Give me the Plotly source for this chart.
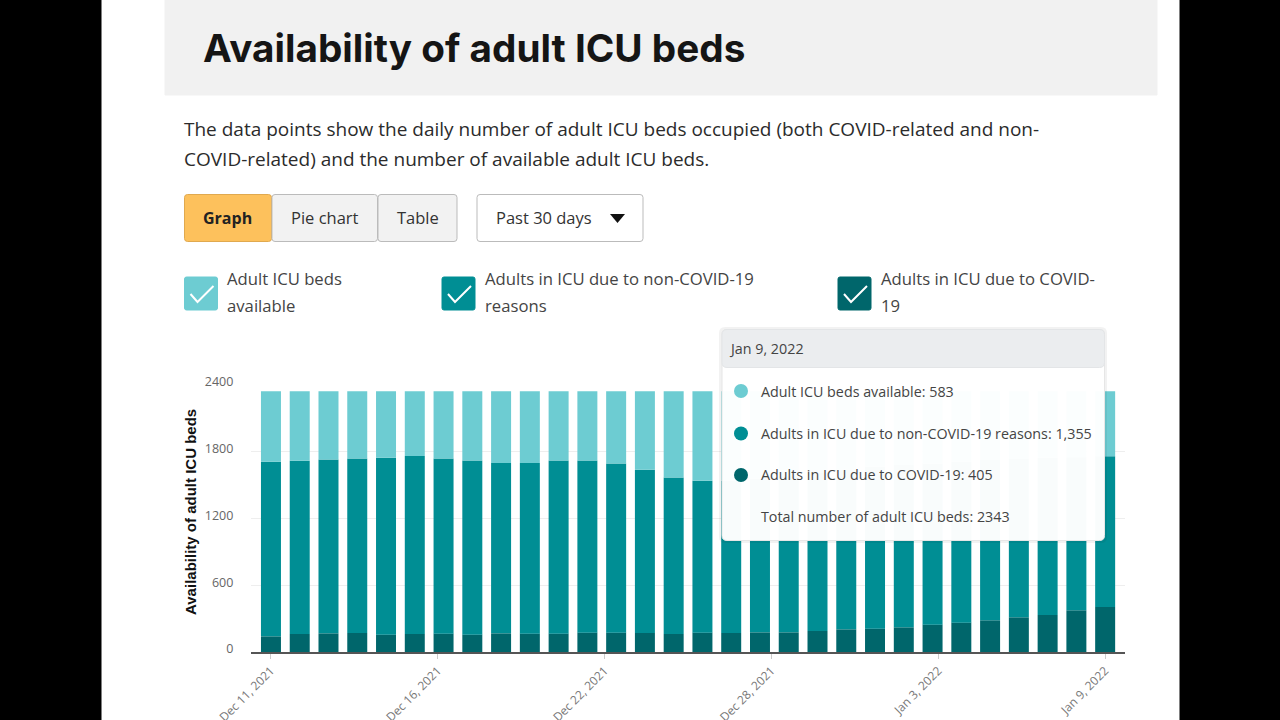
import pandas as pd
import plotly.express as px

covid=[141,162,168,171,156,162,165,156,168,165,165,174,174,171,162,174,171,177,177,189,204,210,222,246,264,285,312,333,375,405]
occupied=[1710,1719,1731,1740,1746,1761,1740,1722,1698,1698,1722,1722,1695,1638,1569,1539,1540,1560,1585,1610,1640,1665,1680,1695,1710,1725,1735,1745,1750,1760]
#Reading the bars off the picture, occupied is the top of the middle block

table=pd.DataFrame({'Date':pd.date_range('2021-12-11', '2022-01-09'), 'covid':covid, 'occupied':occupied})
table['Adults in ICU due to COVID-19']=table['covid']
table['Adults in ICU due to non-COVID-19 reasons']=table['occupied']-table['covid']
table['Adult ICU beds available']=2343-table['occupied']
#Building the table

fig=px.bar(table, x='Date', y=['Adults in ICU due to COVID-19', 'Adults in ICU due to non-COVID-19 reasons', 'Adult ICU beds available'], color_discrete_sequence=['#00666b', '#008e94', '#6dccd2'])
fig.update_traces(marker_line_width=0)
#Stacked bar chart for the beds

ticks=[pd.Timestamp('2021-12-11')+pd.Timedelta(days=5.8*i) for i in range(6)]
fig.update_xaxes(domain=[251.4/1280, 1125/1280], range=[pd.Timestamp('2021-12-11')-pd.Timedelta(days=0.68), pd.Timestamp('2022-01-09')+pd.Timedelta(days=0.69)], tickvals=ticks, ticktext=['Dec 11, 2021', 'Dec 16, 2021', 'Dec 22, 2021', 'Dec 28, 2021', 'Jan 3, 2022', 'Jan 9, 2022'], tickangle=-45, ticks='outside', ticklen=5, tickcolor='#cccccc', tickfont=dict(family='Open Sans', size=12, color='#777777'), showline=True, linecolor='#555555', linewidth=2, showgrid=False, title=None, automargin=False)
fig.update_yaxes(domain=[1-652/720, 1-385/720], range=[0, 2400], tickvals=[0, 600, 1200, 1800, 2400], tickfont=dict(family='Open Sans', size=12.5, color='#666666'), gridcolor='#eeeeee', zeroline=False, ticklabelstandoff=17, ticklabelshift=-3, title=None, automargin=False)
fig.update_layout(width=1280, height=720, margin=dict(l=0, r=0, t=0, b=0), autosize=False, paper_bgcolor='white', plot_bgcolor='white', showlegend=False, bargap=0.305, hovermode=False)
#Axes and layout

boxes=[(0,-2,101,722,'#000000','#000000',0,'below'),
       (1180,-2,1282,722,'#000000','#000000',0,'below'),
       (165,-2,1157,95,'#f1f1f1','#f1f1f1',0,'below'),
       (184.5,194.5,271.5,241.5,'#fdc15c','#e0a94f',3,'below'),
       (272,194.5,377.5,241.5,'#f2f2f2','#bbbbbb',3,'below'),
       (378,194.5,457,241.5,'#f2f2f2','#bbbbbb',3,'below'),
       (477,194.5,643,241.5,'#ffffff','#bbbbbb',3,'below'),
       (184.5,277,217.5,310,'#6dccd2','#6dccd2',2,'below'),
       (442,277,475,310,'#008e94','#008e94',2,'below'),
       (838,277,871,310,'#00666b','#00666b',2,'below'),
       (719,327,1107,543,'rgba(0,0,0,0.05)','rgba(0,0,0,0)',6,'above'),
       (722,329.5,1104.5,540.5,'rgba(255,255,255,0.975)','#e6e6e6',5,'above'),
       (722,329.5,1104.5,367.5,'#ebedef','#e3e5e7',5,'above')]
for x0,y0,x1,y1,fill,line,r,layer in boxes:
    path=f'M {(x0+r)/1280} {1-y0/720} L {(x1-r)/1280} {1-y0/720} Q {x1/1280} {1-y0/720} {x1/1280} {1-(y0+r)/720} L {x1/1280} {1-(y1-r)/720} Q {x1/1280} {1-y1/720} {(x1-r)/1280} {1-y1/720} L {(x0+r)/1280} {1-y1/720} Q {x0/1280} {1-y1/720} {x0/1280} {1-(y1-r)/720} L {x0/1280} {1-(y0+r)/720} Q {x0/1280} {1-y0/720} {(x0+r)/1280} {1-y0/720} Z'
    fig.add_shape(type='path', path=path, xref='paper', yref='paper', fillcolor=fill, line=dict(color=line, width=1), layer=layer)
#The page around the chart and the tooltip box

for x0 in [184.5, 442, 838]:
    path=f'M {(x0+6)/1280} {1-294/720} L {(x0+13)/1280} {1-302/720} L {(x0+29)/1280} {1-286/720}'
    fig.add_shape(type='path', path=path, xref='paper', yref='paper', line=dict(color='white', width=2))
fig.add_shape(type='path', path=f'M {610/1280} {1-214/720} L {625/1280} {1-214/720} L {617.5/1280} {1-223/720} Z', xref='paper', yref='paper', fillcolor='#111111', line=dict(width=0))
for y,color in [(391,'#6dccd2'), (433.5,'#008e94'), (475,'#00666b')]:
    fig.add_shape(type='circle', xref='paper', yref='paper', x0=734/1280, x1=748/1280, y0=1-(y+7)/720, y1=1-(y-7)/720, fillcolor=color, line=dict(width=0))
#Check marks, dropdown arrow and tooltip dots

texts=[(202,48,'<b>Availability of adult ICU beds</b>','Inter',38.7,'#151515'),
       (183,129,'The data points show the daily number of adult ICU beds occupied (both COVID-related and non-','Open Sans',19,'#2b2b2b'),
       (183,159,'COVID-related) and the number of available adult ICU beds.','Open Sans',19,'#2b2b2b'),
       (202,218,'<b>Graph</b>','Open Sans',16,'#222222'),
       (290,217.5,'Pie chart','Open Sans',16.5,'#333333'),
       (396,217.5,'Table','Open Sans',16.5,'#333333'),
       (495,217.5,'Past 30 days','Open Sans',16.5,'#333333'),
       (226,278.5,'Adult ICU beds','Open Sans',16.7,'#444444'),
       (226,305.5,'available','Open Sans',16.7,'#444444'),
       (484,278.5,'Adults in ICU due to non-COVID-19','Open Sans',16.7,'#444444'),
       (484,305.5,'reasons','Open Sans',16.7,'#444444'),
       (880,278.5,'Adults in ICU due to COVID-','Open Sans',16.7,'#444444'),
       (880,305.5,'19','Open Sans',16.7,'#444444'),
       (728,348.5,'Jan 9, 2022','Open Sans',14.3,'#444444'),
       (760,391.5,'Adult ICU beds available: 583','Open Sans',14.3,'#444444'),
       (760,433.5,'Adults in ICU due to non-COVID-19 reasons: 1,355','Open Sans',14.3,'#444444'),
       (760,474.5,'Adults in ICU due to COVID-19: 405','Open Sans',14.3,'#444444'),
       (760,516.5,'Total number of adult ICU beds: 2343','Open Sans',14.3,'#444444')]
for x,y,text,family,size,color in texts:
    fig.add_annotation(x=x/1280, y=1-y/720, xref='paper', yref='paper', text=text, showarrow=False, xanchor='left', yanchor='middle', borderpad=0, font=dict(family=family, size=size, color=color))
fig.add_annotation(x=190/1280, y=1-512/720, xref='paper', yref='paper', text='<b>Availability of adult ICU beds</b>', textangle=-90, showarrow=False, xanchor='center', yanchor='middle', font=dict(family='Liberation Sans', size=15, color='#111111'))
#All the text on the page

fig.write_html("out.html", config=dict(displayModeBar=False), post_script="document.body.style.margin='0';")
